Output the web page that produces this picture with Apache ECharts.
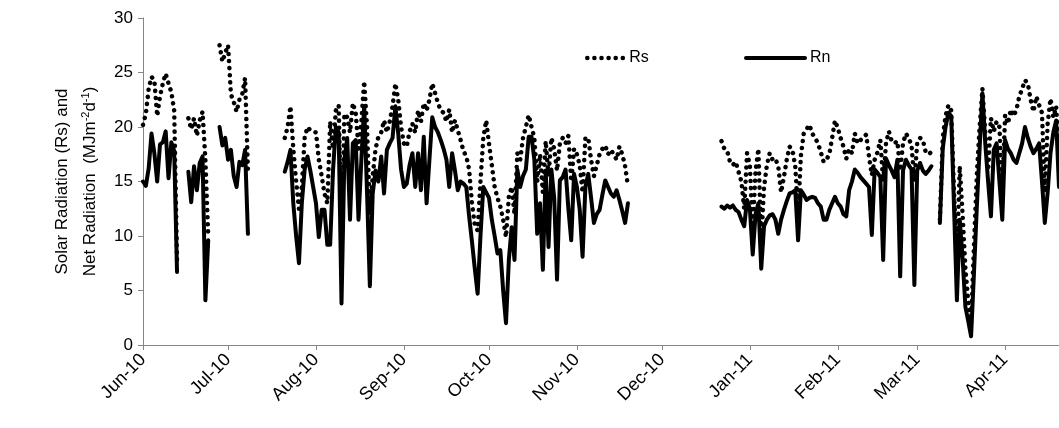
<!DOCTYPE html>
<html><head><meta charset="utf-8">
<script src="https://cdn.jsdelivr.net/npm/echarts@6/dist/echarts.min.js"></script>
<style>html,body{margin:0;padding:0;background:#fff}#c{width:1059px;height:428px}</style>
</head><body><div id="c"></div>
<script>
// Month labels (x axis tick labels at the first day of each month)
const monthLabels = ['Jun-10','Jul-10','Aug-10','Sep-10','Oct-10','Nov-10','Dec-10','Jan-11','Feb-11','Mar-11','Apr-11'];

// Daily solar radiation Rs (MJ m-2 d-1), null = no data
const rsJun = [20.2,21.2,23.5,24.6,24.3,21.0,22.8,24.0,24.9,24.0,23.2,21.5,7.8,null,null,null,20.8,19.8,20.8,19.2,20.6,21.4,17.0,10.0,null,null,null,27.5,26.0,26.8];
const rsJul = [27.5,23.0,22.3,21.4,22.5,23.0,24.5,16.0,null,null,null,null,null,null,null,null,null,null,null,null,19.0,20.0,21.9,18.0,15.0,12.5,14.5,19.0,20.0,19.7,19.6];
const rsAug = [19.5,17.0,15.5,13.9,13.0,20.5,18.0,21.5,22.0,10.0,21.2,20.9,19.5,22.2,21.3,18.0,20.5,24.2,20.0,12.0,15.5,18.0,19.1,19.5,20.6,19.5,20.5,21.9,24.0,22.5,20.0];
const rsSep = [18.5,18.2,19.6,20.3,19.5,21.5,20.5,22.2,21.5,22.5,24.0,23.1,22.2,21.5,21.3,20.5,21.6,19.5,20.6,19.7,18.8,17.8,17.3,16.1,13.0,11.0,10.5,15.0,19.0,20.6];
const rsOct = [18.5,16.5,14.5,13.5,12.7,11.5,9.9,13.6,14.5,12.0,17.6,17.0,19.0,20.0,21.1,20.0,19.0,15.0,17.5,14.0,18.7,15.5,19.0,18.0,16.0,18.5,19.0,18.5,19.2,15.0,18.0];
const rsNov = [17.5,16.5,14.0,19.0,19.0,17.0,15.5,16.5,17.5,18.0,18.3,17.5,17.9,17.5,17.0,18.2,17.5,16.4,14.6,null,null,null,null,null,null,null,null,null,null,null];
const rsDec = [null,null,null,null,null,null,null,null,null,null,null,null,null,null,null,null,null,null,null,null,null,18.7,18.0,17.8,16.8,16.5,16.8,15.9,15.0,12.5,17.6];
const rsJan = [16.5,10.5,16.0,18.0,9.5,14.5,16.5,17.6,17.0,17.1,16.4,14.0,15.4,17.0,18.2,17.9,16.4,12.0,17.4,19.4,19.8,20.2,19.4,19.0,18.5,17.7,16.8,17.0,17.5,19.0,20.6];
const rsFeb = [19.9,19.0,18.2,17.1,18.0,17.6,19.4,18.5,18.8,19.0,19.3,17.3,15.6,17.0,17.7,18.8,15.0,18.5,19.6,18.7,18.5,18.7,16.0,18.5,19.4,19.0,18.3,15.0];
const rsMar = [18.5,19.0,18.8,17.7,17.5,17.7,null,null,11.5,19.0,21.0,22.0,21.5,14.0,8.0,16.4,12.0,7.0,4.0,2.0,9.0,15.5,20.0,23.5,19.5,16.0,20.8,19.6,20.5,20.0,14.0];
const rsApr = [21.1,20.3,21.6,21.0,21.6,22.8,23.5,24.3,24.0,22.5,21.4,22.8,22.0,21.3,14.0,20.3,22.6,20.9,21.9,17.0];

// Daily net radiation Rn (MJ m-2 d-1), null = no data
const rnJun = [15.0,14.6,16.2,19.4,17.6,15.0,18.4,18.6,19.6,15.3,18.6,17.8,6.7,null,null,null,15.9,13.1,16.4,14.2,16.7,17.3,4.1,9.6,null,null,null,20.0,18.3,19.0];
const rnJul = [17.0,17.9,15.5,14.5,16.8,16.5,17.9,10.2,null,null,null,null,null,null,null,null,null,null,null,null,15.9,16.8,17.9,13.0,10.0,7.5,13.0,16.1,17.3,16.0,14.5];
const rnAug = [13.0,9.9,12.4,12.4,9.2,9.2,16.0,20.0,19.5,3.8,17.0,19.0,11.5,18.5,18.8,11.5,17.0,21.9,14.0,5.4,13.9,16.0,15.0,17.3,13.9,17.9,18.5,19.0,21.9,19.4,16.1];
const rnSep = [14.5,14.8,16.5,17.6,14.5,17.6,14.2,19.1,13.0,17.0,20.9,20.0,19.5,18.8,18.0,17.0,14.5,17.6,16.0,14.2,15.0,14.8,14.5,11.8,9.5,7.0,4.7,10.0,14.5,14.0];
const rnOct = [13.5,11.5,10.0,8.4,8.7,5.0,2.0,7.8,10.8,7.8,16.1,14.5,15.5,16.1,19.1,19.1,17.0,10.2,13.0,6.9,16.0,9.0,16.1,13.5,6.0,15.1,15.4,16.1,12.5,9.6,15.7];
const rnNov = [14.5,12.4,8.1,14.5,15.7,13.5,11.2,12.0,12.4,13.8,15.1,14.5,13.9,13.6,14.2,13.3,12.3,11.2,13.0,null,null,null,null,null,null,null,null,null,null,null];
const rnDec = [null,null,null,null,null,null,null,null,null,null,null,null,null,null,null,null,null,null,null,null,null,12.7,12.5,12.8,12.6,12.8,12.4,12.2,11.5,10.9,13.3];
const rnJan = [12.5,8.3,12.0,13.0,7.0,10.9,11.5,11.9,12.0,11.5,10.2,11.5,12.4,13.2,13.9,14.0,14.2,9.6,14.2,13.8,13.3,13.5,13.6,13.5,13.0,12.7,11.5,11.5,12.4,13.0,13.6];
const rnFeb = [13.0,12.7,12.0,11.8,14.2,15.0,16.1,15.8,15.4,15.1,14.8,14.5,10.1,16.1,15.8,15.4,7.8,17.1,16.5,16.0,15.4,17.0,6.3,16.0,17.0,16.5,16.1,5.5];
const rnMar = [16.0,16.7,16.0,15.7,16.0,16.4,null,null,11.2,18.0,20.0,21.3,21.0,12.5,4.1,11.5,8.0,3.5,2.2,0.8,6.5,12.5,18.0,23.1,18.5,15.0,11.8,17.9,18.5,15.0,11.5];
const rnApr = [18.8,18.0,17.6,17.0,16.7,17.6,18.5,20.0,19.0,18.2,17.6,18.0,18.5,15.0,11.2,14.0,17.6,19.5,20.6,14.5];

const rsMonths = [rsJun,rsJul,rsAug,rsSep,rsOct,rsNov,rsDec,rsJan,rsFeb,rsMar,rsApr];
const rnMonths = [rnJun,rnJul,rnAug,rnSep,rnOct,rnNov,rnDec,rnJan,rnFeb,rnMar,rnApr];

const categories = [], rs = [], rn = [];
monthLabels.forEach((m, i) => {
  rsMonths[i].forEach((v, j) => {
    categories.push(m + '/' + (j + 1));
    rs.push(v);
    rn.push(rnMonths[i][j]);
  });
});

const isMonthStart = (idx, val) => String(val).endsWith('/1');
const FONT = '"Liberation Sans", Arial, sans-serif';
const RS_LINE = {color: '#000', width: 4.5, type: [0.1, 7], cap: 'round', join: 'round'};
const RN_LINE = {color: '#000', width: 4, type: 'solid', join: 'round', cap: 'round'};

const chart = echarts.init(document.getElementById('c'), null, {renderer: 'canvas'});
chart.setOption({
  animation: false,
  textStyle: {fontFamily: FONT},
  grid: {left: 143, right: 0, top: 18, bottom: 83},
  legend: [
    {data: ['Rs'], left: 585, top: 50, padding: 0, itemWidth: 37, itemHeight: 14, itemGap: 5,
     itemStyle: {opacity: 0}, lineStyle: RS_LINE,
     textStyle: {fontSize: 16, color: '#000', fontFamily: FONT}},
    {data: ['Rn'], left: 744, top: 50, padding: 0, itemWidth: 59, itemHeight: 14, itemGap: 5,
     itemStyle: {opacity: 0}, lineStyle: RN_LINE,
     textStyle: {fontSize: 16, color: '#000', fontFamily: FONT}}
  ],
  xAxis: {
    type: 'category', data: categories, boundaryGap: false,
    axisLine: {lineStyle: {color: '#868686', width: 1}},
    axisTick: {interval: isMonthStart, length: 5, lineStyle: {color: '#868686'}},
    axisLabel: {interval: isMonthStart, rotate: 45, formatter: v => v.split('/')[0],
                fontSize: 18, color: '#000', margin: 12, fontFamily: FONT},
    splitLine: {show: false}
  },
  yAxis: {
    type: 'value', min: 0, max: 30, interval: 5,
    axisLine: {show: true, lineStyle: {color: '#868686'}},
    axisTick: {show: true, length: 5, lineStyle: {color: '#868686'}},
    axisLabel: {fontSize: 17, color: '#000', margin: 10, fontFamily: FONT},
    splitLine: {show: false},
    name: '{a|Solar Radiation (Rs) and}\n{a|Net Radiation  (MJm}{s|-2}{a|d}{s|-1}{a|)}',
    nameLocation: 'middle', nameRotate: 90, nameGap: 39,
    nameTextStyle: {
      color: '#000', fontFamily: FONT,
      rich: {
        a: {fontSize: 17, color: '#000', fontFamily: FONT, lineHeight: 28},
        s: {fontSize: 11, color: '#000', fontFamily: FONT, lineHeight: 28, verticalAlign: 'top', padding: [4, 0, 0, 0]}
      }
    }
  },
  series: [
    {name: 'Rs', type: 'line', data: rs, symbol: 'none', showSymbol: false, connectNulls: false, z: 2,
     itemStyle: {color: '#000'}, lineStyle: RS_LINE},
    {name: 'Rn', type: 'line', data: rn, symbol: 'none', showSymbol: false, connectNulls: false, z: 3,
     itemStyle: {color: '#000'}, lineStyle: RN_LINE}
  ]
});
</script>
</body></html>
